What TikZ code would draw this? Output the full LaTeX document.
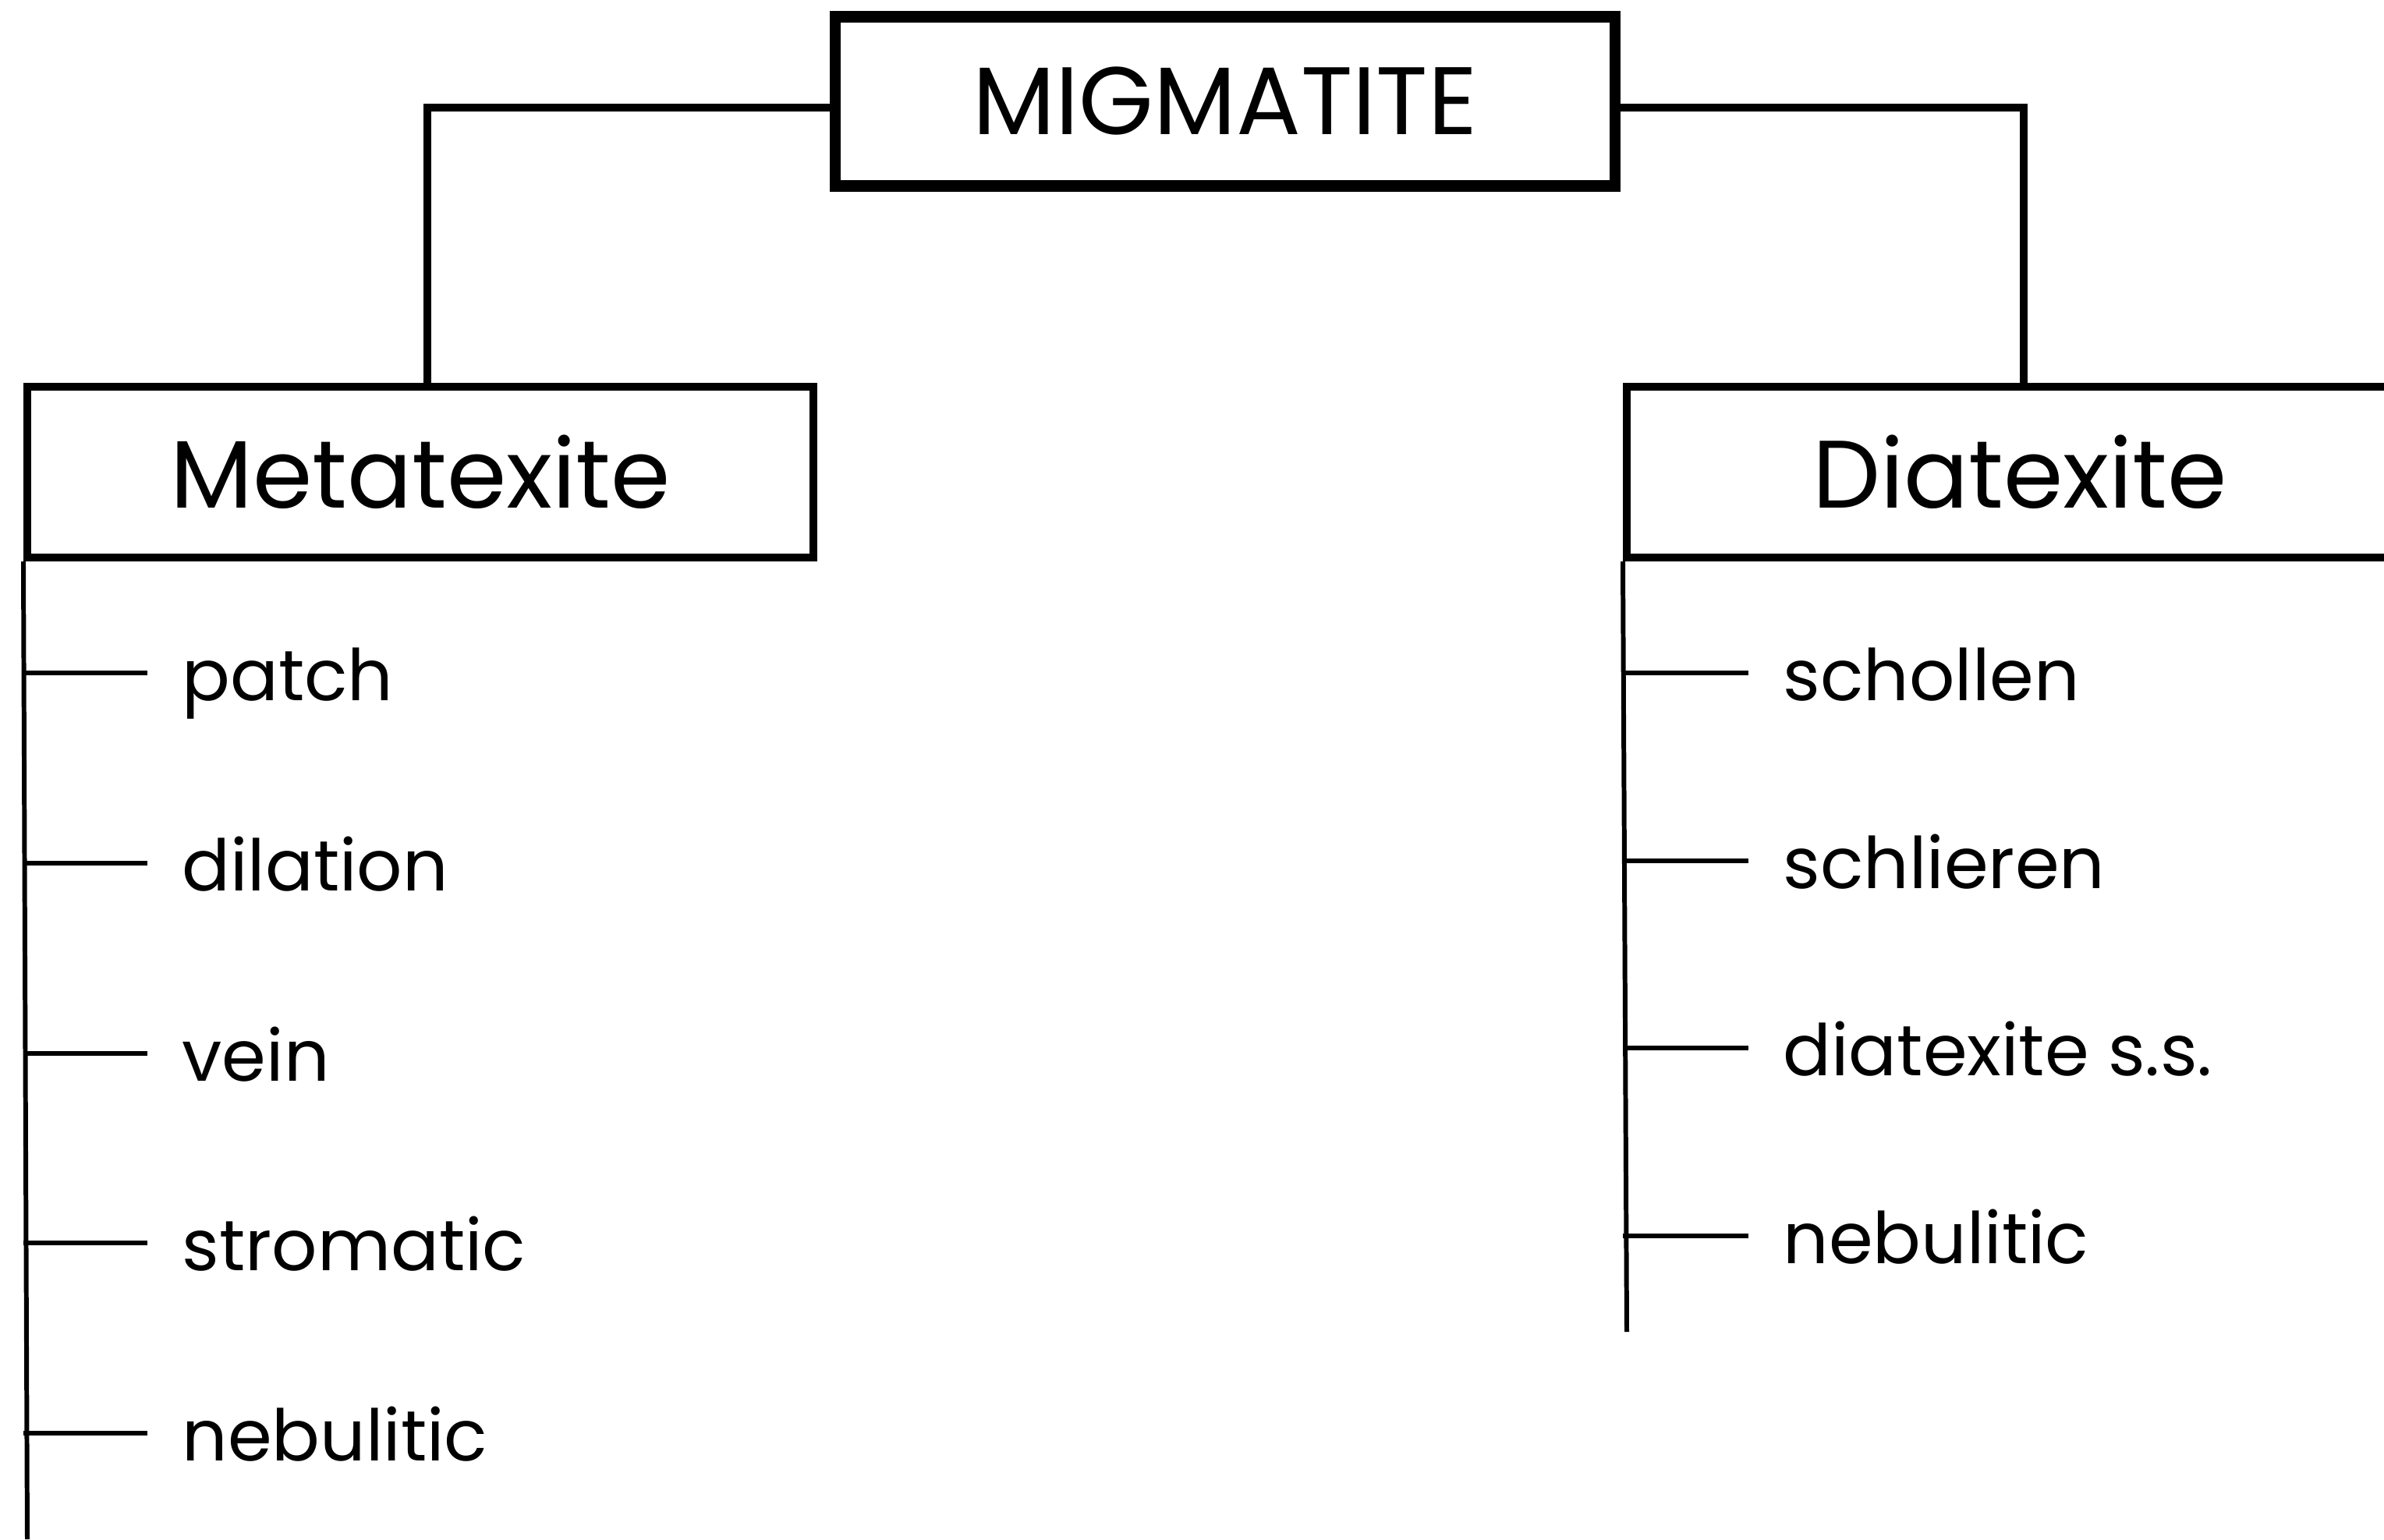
\documentclass[tikz,border=0pt]{standalone}
\usepackage{fontspec}
\setmainfont{Poppins}
\usetikzlibrary{positioning}
\begin{document}
\begin{tikzpicture}
\tikzstyle{arrow} = [line width = 2.85pt, -]
\tikzstyle{branch} = [line width = 1.7pt, -]
\tikzstyle{box} = [rectangle, minimum width = 10.08cm, minimum height = 2.19cm, text centered, draw = black, line width = 2.85pt, font = \fontsize{35}{40}\selectfont]
\tikzstyle{item} = [anchor = west, inner xsep = 0.44cm, inner ysep = 0pt, text height = 0.9cm, text depth = 0.2cm, font = \fontsize{26}{30}\selectfont]
\useasboundingbox (0,0) rectangle (30.57,-19.74);
\node[box, minimum width = 10cm, minimum height = 2.17cm, line width = 4pt](migmatite) at (15.71,-1.30){MIGMATITE};
\node[box](metatexite) at (5.39,-6.055){Metatexite};
\node[box](diatexite) at (25.90,-6.055){Diatexite};
\node[item](meta1) at (1.89,-8.63){patch};
\node[item](meta2) at (1.89,-11.07){dilation};
\node[item](meta3) at (1.89,-13.51){vein};
\node[item](meta4) at (1.89,-15.94){stromatic};
\node[item](meta5) at (1.89,-18.38){nebulitic};
\node[item](dia1) at (22.42,-8.63){schollen};
\node[item](dia2) at (22.42,-11.04){schlieren};
\node[item](dia3) at (22.42,-13.44){diatexite s.s.};
\node[item](dia4) at (22.42,-15.85){nebulitic};
\coordinate (metaend) at (0.35,-19.74);
\coordinate (diaend) at (20.86,-17.08);
\draw[arrow] ([yshift = -0.08cm]migmatite.west) -| ([xshift = 0.09cm]metatexite.north);
\draw[arrow] ([yshift = -0.08cm]migmatite.east) -| ([xshift = 0.05cm]diatexite.north);
\draw[branch] (metatexite.south west)--(metaend);
\draw[branch] (diatexite.south west)--(diaend);
\draw[branch] (metatexite.south west |- meta1.west)--(meta1.west);
\draw[branch] (metatexite.south west |- meta2.west)--(meta2.west);
\draw[branch] (metatexite.south west |- meta3.west)--(meta3.west);
\draw[branch] (metatexite.south west |- meta4.west)--(meta4.west);
\draw[branch] (metatexite.south west |- meta5.west)--(meta5.west);
\draw[branch] (diatexite.south west |- dia1.west)--(dia1.west);
\draw[branch] (diatexite.south west |- dia2.west)--(dia2.west);
\draw[branch] (diatexite.south west |- dia3.west)--(dia3.west);
\draw[branch] (diatexite.south west |- dia4.west)--(dia4.west);
\end{tikzpicture}
\end{document}
